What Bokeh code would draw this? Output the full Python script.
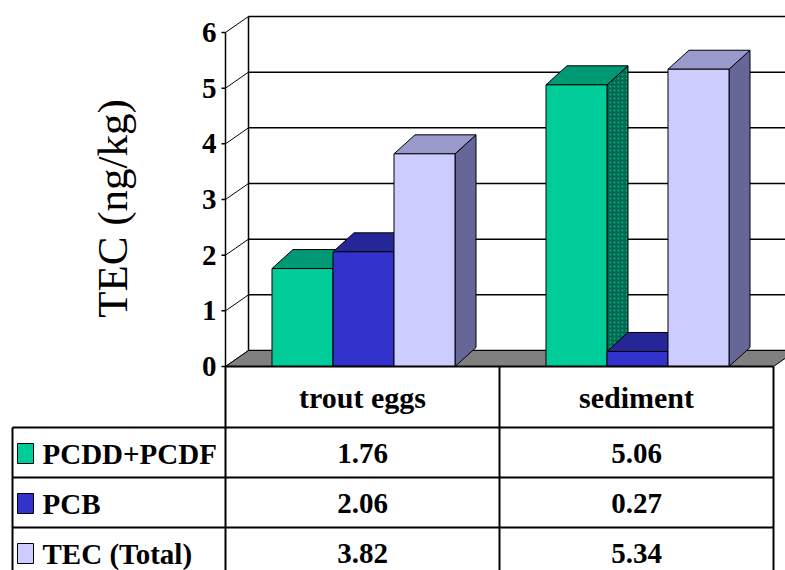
from bokeh.plotting import figure
from bokeh.models import Range1d
from bokeh.core.properties import value
from bokeh.embed import file_html
from bokeh.resources import INLINE
import math

# --- data -------------------------------------------------------------
categories = ["trout eggs", "sediment"]
series = ["PCDD+PCDF", "PCB", "TEC (Total)"]
pcdd = [1.76, 5.06]
pcb = [2.06, 0.27]
tec_total = [3.82, 5.34]
y_ticks = [0, 1, 2, 3, 4, 5, 6]

# --- styling ------------------------------------------------------------
front_colors = ["#00CC99", "#3333CC", "#CCCCFF"]
top_colors = ["#009973", "#262699", "#9999CC"]
side_colors = ["#00664D", "#1A1A80", "#666699"]
FONT = value("Liberation Serif")

# scale: one category slot is 274 px wide, one TEC unit is 55.67 px tall
SX, SY = 274.0, 55.67
def ux(px):
    return px / SX
def uy(px):
    return px / SY

X0, X1 = ux(-225), ux(785 - 225)
Y0, Y1 = uy(-(570 - 366)), uy(366)

BAR_W = ux(61)
BAR_DX, BAR_DY = ux(21), uy(19)      # bar depth
WALL_DX, WALL_DY = ux(23), uy(16)    # depth of the floor / back wall
N = len(categories)

p = figure(width=785, height=570, x_range=Range1d(X0, X1), y_range=Range1d(Y0, Y1),
           output_backend="svg", toolbar_location=None, min_border=0,
           x_axis_type=None, y_axis_type=None, outline_line_color=None,
           background_fill_color="white", border_fill_color="white")

# back wall gridlines and wall edges
p.segment(x0=[WALL_DX] * len(y_ticks), y0=[t + WALL_DY for t in y_ticks],
          x1=[X1] * len(y_ticks), y1=[t + WALL_DY for t in y_ticks],
          line_color="black", line_width=1.5)
p.segment(x0=[0] * len(y_ticks), y0=y_ticks,
          x1=[WALL_DX] * len(y_ticks), y1=[t + WALL_DY for t in y_ticks],
          line_color="black", line_width=1)
p.segment(x0=[WALL_DX], y0=[WALL_DY], x1=[WALL_DX], y1=[max(y_ticks) + WALL_DY],
          line_color="black", line_width=1.5)

# floor
p.patch(x=[0, N, N + WALL_DX, WALL_DX], y=[0, 0, WALL_DY, WALL_DY],
        fill_color="#808080", line_color="black", line_width=1)

# 3-D bars, drawn left to right so nearer faces cover hidden sides
groups = [pcdd, pcb, tec_total]
for ci in range(N):
    center = ci + 0.5 + ux(1)
    for si, vals in enumerate(groups):
        h = vals[ci]
        left = center + (si - 1.5) * BAR_W
        right = left + BAR_W
        side_kw = dict(fill_color=side_colors[si], line_color="black", line_width=1)
        if si == 0:
            side_kw.update(hatch_pattern=".", hatch_color="#00B386", hatch_scale=4, hatch_weight=1)
        p.patch(x=[right, right + BAR_DX, right + BAR_DX, right],
                y=[0, BAR_DY, h + BAR_DY, h], **side_kw)
        p.patch(x=[left, right, right + BAR_DX, left + BAR_DX],
                y=[h, h, h + BAR_DY, h + BAR_DY],
                fill_color=top_colors[si], line_color="black", line_width=1)
        p.quad(left=[left], right=[right], bottom=[0], top=[h],
               fill_color=front_colors[si], line_color="black", line_width=1)

# front value axis with ticks and labels
p.segment(x0=[0], y0=[0], x1=[0], y1=[max(y_ticks)], line_color="black", line_width=1.5)
p.segment(x0=[ux(-4)] * len(y_ticks), y0=y_ticks, x1=[0] * len(y_ticks), y1=y_ticks,
          line_color="black", line_width=1.5)
p.text(x=[ux(-9)] * len(y_ticks), y=y_ticks, text=[str(t) for t in y_ticks],
       text_font=FONT, text_font_style="bold", text_font_size="29px",
       text_align="right", text_baseline="middle", text_color="black")
p.text(x=[ux(112 - 225)], y=[uy(366 - 208)], text=["TEC (ng/kg)"], angle=math.pi / 2,
       text_font=FONT, text_font_size="43px", text_align="center",
       text_baseline="middle", text_color="black")

# data table below the chart
row_h = uy(50)
head_bottom = uy(-61)
row_lines = [head_bottom - k * row_h for k in range(len(series))]
table_left = ux(12 - 225)
p.segment(x0=[0], y0=[0], x1=[N], y1=[0], line_color="black", line_width=2)
p.segment(x0=[table_left] * len(row_lines), y0=row_lines,
          x1=[N] * len(row_lines), y1=row_lines, line_color="black", line_width=2)
p.segment(x0=list(range(N + 1)), y0=[0] * (N + 1), x1=list(range(N + 1)), y1=[Y0] * (N + 1),
          line_color="black", line_width=2)
p.segment(x0=[table_left], y0=[head_bottom], x1=[table_left], y1=[Y0],
          line_color="black", line_width=2)

p.text(x=[i + 0.5 for i in range(N)], y=[uy(366 - 397)] * N, text=categories,
       text_font=FONT, text_font_style="bold", text_font_size="30px",
       text_align="center", text_baseline="middle", text_color="black")

row_mid = [head_bottom - (k + 0.5) * row_h - uy(1) for k in range(len(series))]
for k, vals in enumerate(groups):
    p.text(x=[i + 0.5 for i in range(N)], y=[row_mid[k]] * N,
           text=["%.2f" % v for v in vals],
           text_font=FONT, text_font_style="bold", text_font_size="29px",
           text_align="center", text_baseline="middle", text_color="black")

p.quad(left=[ux(17 - 225)] * 3, right=[ux(33 - 225)] * 3,
       bottom=[m - uy(10) for m in row_mid], top=[m + uy(10) for m in row_mid],
       fill_color=front_colors, line_color="black", line_width=1)
p.text(x=[ux(42 - 225)] * 3, y=row_mid, text=series,
       text_font=FONT, text_font_style="bold", text_font_size="29px",
       text_align="left", text_baseline="middle", text_color="black")

open("out.html", "w").write(file_html(p, INLINE))
